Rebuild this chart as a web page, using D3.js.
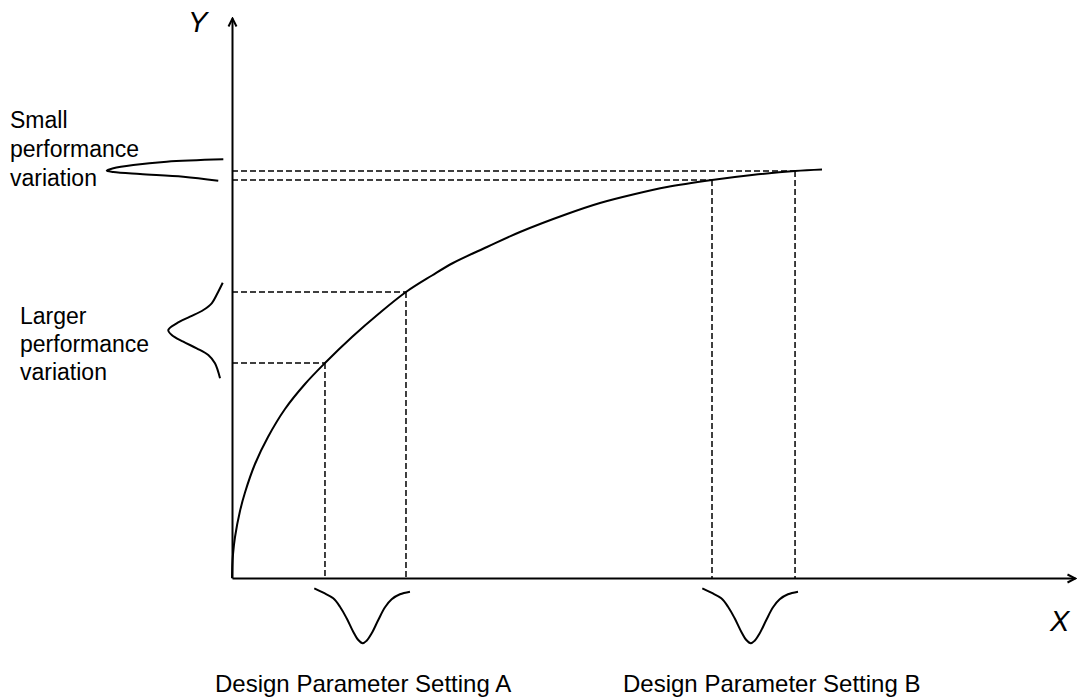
<!DOCTYPE html>
<html>
<head>
<meta charset="utf-8">
<script src="https://cdn.jsdelivr.net/npm/d3@7"></script>
<style>
  body { margin: 0; background: #fff; }
  svg { display: block; font-family: "Liberation Sans", Arial, sans-serif; }
</style>
</head>
<body>
<svg id="chart" width="1077" height="698"></svg>
<script>
// DATA (plot units, 0-100 on both axes)
var curveX = [0, 0.036, 0.119, 0.356, 0.949, 1.542, 2.728, 4.27, 6.287, 8.66, 11.032, 14.235, 17.438, 20.64, 23.725, 26.216, 30.249, 34.164, 39.739, 43.654, 47.568, 51.601, 56.94, 61.684, 66.785, 69.988];
var curveY = [0, 2.321, 4.232, 7.321, 11.964, 15.268, 20.357, 25.179, 30.179, 34.643, 38.393, 43.036, 47.23, 51.07, 54.02, 56.25, 59.107, 61.786, 65, 66.964, 68.482, 69.821, 71.071, 71.964, 72.679, 72.946];

// design parameter settings and the performance they give
var settingX = [11.03, 20.64, 56.94, 66.79];
var settingY = [38.39, 51.07, 71.07, 72.68];

// input spread (under the x axis)
var bellCenters = [15.5, 61.53];
var bellOffset = [-5.74, -4.67, -3.49, -2.69, -1.90, -1.12, -0.52, 0, 0.47, 1.07, 1.85, 2.65, 3.44, 4.42, 5.61];
var bellDepth = [-1.84, -2.63, -3.63, -5.13, -7.20, -9.59, -11.07, -11.66, -11.20, -9.88, -7.5, -5.23, -3.80, -2.91, -2.45];

// output spread (left of the y axis)
var largeSpreadX = [-1.10, -1.63, -2.41, -3.40, -4.98, -6.56, -7.56, -7.15, -5.78, -4.19, -2.81, -2.02, -1.42];
var largeSpreadY = [52.73, 51.13, 49.05, 47.86, 46.66, 45.48, 44.29, 43.39, 42.2, 41.02, 39.82, 38.34, 35.66];
var smallSpreadX = [-1.03, -7.75, -11.71, -14.08, -14.86, -14.08, -10.91, -5.78, -1.63];
var smallSpreadY = [74.77, 74.34, 73.75, 73.16, 72.73, 72.5, 72.14, 71.66, 70.95];

var smallLabel = ['Small', 'performance', 'variation'];
var largeLabel = ['Larger', 'performance', 'variation'];
var settingLabels = ['Design Parameter Setting A', 'Design Parameter Setting B'];

// SCALES
var svg = d3.select('#chart');
var xScale = d3.scaleLinear().domain([0, 100]).range([232, 1075]);
var yScale = d3.scaleLinear().domain([0, 100]).range([578, 18]);

// arrow head
svg.append('defs').append('marker')
  .attr('id', 'arrow')
  .attr('markerUnits', 'userSpaceOnUse')
  .attr('viewBox', '-10 -6 12 12')
  .attr('refX', 0).attr('refY', 0)
  .attr('markerWidth', 12).attr('markerHeight', 12)
  .attr('orient', 'auto')
  .append('path')
  .attr('d', 'M-8,-4L0,0L-8,4')
  .attr('fill', 'none')
  .attr('stroke', '#000')
  .attr('stroke-width', 2);

// AXES (no ticks)
svg.append('g')
  .attr('transform', 'translate(0,' + yScale(0) + ')')
  .call(d3.axisBottom(xScale).tickValues([]).tickSizeOuter(0));
svg.append('g')
  .attr('transform', 'translate(' + xScale(0) + ',0)')
  .call(d3.axisLeft(yScale).tickValues([]).tickSizeOuter(0));
svg.selectAll('.domain')
  .attr('stroke', '#000')
  .attr('stroke-width', 2)
  .attr('marker-end', 'url(#arrow)');

// DASHED GUIDES
settingX.forEach(function(x, i) {
  svg.append('line')
    .attr('x1', xScale(0)).attr('y1', yScale(settingY[i]))
    .attr('x2', xScale(x)).attr('y2', yScale(settingY[i]))
    .attr('stroke', '#000').attr('stroke-width', 1.5)
    .attr('stroke-dasharray', '6,3');
  svg.append('line')
    .attr('x1', xScale(x)).attr('y1', yScale(settingY[i]))
    .attr('x2', xScale(x)).attr('y2', yScale(0))
    .attr('stroke', '#000').attr('stroke-width', 1.5)
    .attr('stroke-dasharray', '6,3');
});

// RESPONSE CURVE
var line = d3.line()
  .x(function(d) { return xScale(d[0]); })
  .y(function(d) { return yScale(d[1]); })
  .curve(d3.curveCatmullRom);

svg.append('path')
  .datum(d3.zip(curveX, curveY))
  .attr('d', line)
  .attr('fill', 'none')
  .attr('stroke', '#000')
  .attr('stroke-width', 2);

// BELL SHAPES
bellCenters.forEach(function(c) {
  svg.append('path')
    .datum(bellOffset.map(function(o, i) { return [c + o, bellDepth[i]]; }))
    .attr('d', line)
    .attr('fill', 'none')
    .attr('stroke', '#000')
    .attr('stroke-width', 2);
});

[[largeSpreadX, largeSpreadY], [smallSpreadX, smallSpreadY]].forEach(function(s) {
  svg.append('path')
    .datum(d3.zip(s[0], s[1]))
    .attr('d', line)
    .attr('fill', 'none')
    .attr('stroke', '#000')
    .attr('stroke-width', 2);
});

// LABELS
svg.append('text')
  .text('Y')
  .attr('x', 188).attr('y', 32)
  .attr('font-size', '29px')
  .attr('font-style', 'italic');
svg.append('text')
  .text('X')
  .attr('x', 1050).attr('y', 631)
  .attr('font-size', '29px')
  .attr('font-style', 'italic');

smallLabel.forEach(function(t, i) {
  svg.append('text').text(t)
    .attr('x', 10).attr('y', 128 + i * 29)
    .attr('font-size', '23px');
});
largeLabel.forEach(function(t, i) {
  svg.append('text').text(t)
    .attr('x', 20).attr('y', 324 + i * 28)
    .attr('font-size', '23px');
});

svg.append('text').text(settingLabels[0])
  .attr('x', 215).attr('y', 692)
  .attr('font-size', '24px');
svg.append('text').text(settingLabels[1])
  .attr('x', 623).attr('y', 692)
  .attr('font-size', '24px');
</script>
</body>
</html>
